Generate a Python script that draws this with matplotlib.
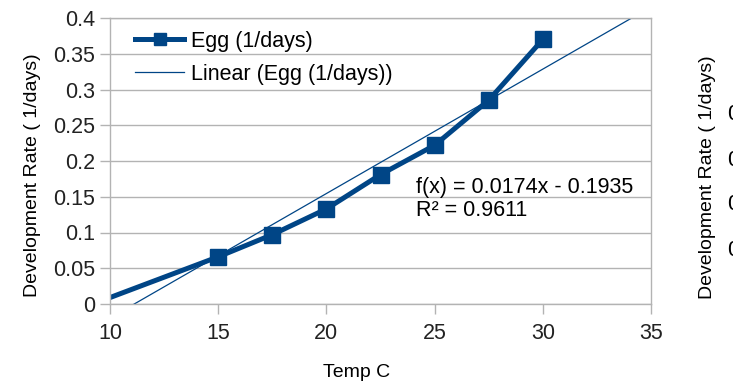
import numpy as np
import matplotlib.pyplot as plt
from matplotlib.patches import Rectangle

plt.rcParams['font.family'] = ['Liberation Sans', 'DejaVu Sans']

# dados
temp_C = [10, 15, 17.5, 20, 22.5, 25, 27.5, 30]
taxa_ovo = [0.009, 0.066, 0.097, 0.133, 0.181, 0.222, 0.285, 0.370]
inclinacao = 0.0174
intercepto = -0.1935
r2 = 0.9611

x_ticks = [10, 15, 20, 25, 30, 35]
y_ticks = [0, 0.05, 0.1, 0.15, 0.2, 0.25, 0.3, 0.35, 0.4]
y_ticklabels = ["0", "0.05", "0.1", "0.15", "0.2", "0.25", "0.3", "0.35", "0.4"]

COR = "#004586"
CINZA = "#b3b3b3"
FS = 15.5
FS_LAB = 14

fig = plt.figure(figsize=(7.52, 3.83), dpi=100)
ax = fig.add_axes([110 / 752, 79 / 383, 541 / 752, 286 / 383])

ax.plot(temp_C, taxa_ovo, color=COR, lw=3.6, marker="s", markersize=12,
        markevery=list(range(1, len(temp_C))), label="Egg (1/days)")

# linha de tendência
xt = np.array([x_ticks[0], x_ticks[-1]])
ax.plot(xt, inclinacao * xt + intercepto, color=COR, lw=0.9,
        label="Linear (Egg (1/days))")

ax.set_xlim(10, 35)
ax.set_ylim(0, 0.4)
ax.set_xticks(x_ticks)
ax.set_yticks(y_ticks)
ax.set_yticklabels(y_ticklabels)
ax.grid(True, axis="y", color=CINZA, lw=1)
ax.set_axisbelow(True)
for s in ax.spines.values():
    s.set_color(CINZA)
    s.set_linewidth(1)
ax.tick_params(colors=CINZA, labelcolor="#222222", labelsize=FS, length=7, width=1)
ax.tick_params(axis="x", pad=7)

ax.set_xlabel("Temp C", fontsize=FS_LAB, va="center")
ax.xaxis.set_label_coords(0.455, -0.238)
ax.set_ylabel("Development Rate ( 1/days)", fontsize=FS_LAB, va="center")
ax.yaxis.set_label_coords(-0.144, 0.451)

ax.text(416 / 752, 1 - 188 / 383, f"f(x) = {inclinacao}x - {abs(intercepto)}",
        transform=fig.transFigure, fontsize=FS, va="center", ha="left")
ax.text(416 / 752, 1 - 211 / 383, f"R² = {r2}",
        transform=fig.transFigure, fontsize=FS, va="center", ha="left")

ax.legend(loc="upper left", bbox_to_anchor=(0.03, 0.985), frameon=False,
          fontsize=FS, handlelength=2.3, handletextpad=0.33, labelspacing=0.55,
          borderaxespad=0, markerscale=0.75)

# pedaço do gráfico vizinho, cortado na borda direita
corte = Rectangle((0, 0), 733 / 752, 1, transform=fig.transFigure)
t = fig.text(708 / 752, 1 - 177 / 383, "Development Rate ( 1/days)", rotation=90,
             fontsize=FS_LAB, ha="center", va="center")
t.set_clip_path(corte)
for yy in [115, 160, 205, 250]:
    t = fig.text(727 / 752, 1 - yy / 383, "0.3", fontsize=FS, ha="left", va="center")
    t.set_clip_path(corte)

fig.savefig("out.png", dpi=100)
